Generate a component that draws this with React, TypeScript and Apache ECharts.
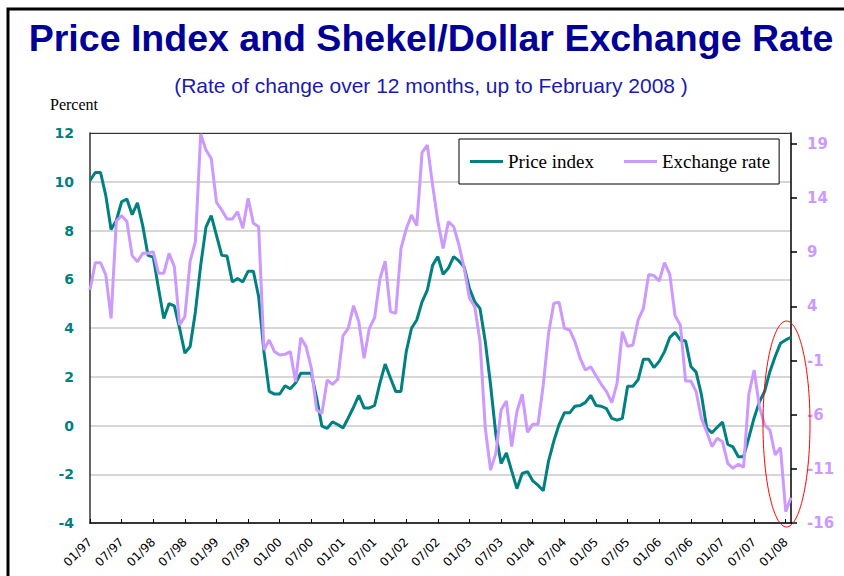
import React, { useEffect, useRef } from 'react';
import * as echarts from 'echarts';

// Monthly categories 01/97 .. 02/08
const months: string[] = [];
for (let y = 1997; y <= 2008; y++) {
  for (let m = 1; m <= 12; m++) {
    if (y === 2008 && m > 2) break;
    months.push(String(m).padStart(2, '0') + '/' + String(y % 100).padStart(2, '0'));
  }
}

const priceIndex: number[] = [
  10.05, 10.38, 10.38, 9.43, 8.04, 8.41, 9.18, 9.29, 8.65, 9.13, 8.2, 6.98,
  6.91, 5.62, 4.39, 5.0, 4.91, 3.99, 2.97, 3.24, 4.67, 6.57, 8.14, 8.61,
  7.8, 6.98, 6.95, 5.89, 6.03, 5.89, 6.33, 6.33, 5.28, 3.03, 1.4, 1.29,
  1.29, 1.63, 1.51, 1.74, 2.14, 2.14, 2.14, 1.13, -0.03, -0.12, 0.15, 0.04,
  -0.1, 0.31, 0.75, 1.24, 0.72, 0.72, 0.82, 1.74, 2.52, 1.95, 1.4, 1.4,
  3.03, 3.99, 4.33, 5.07, 5.55, 6.57, 6.93, 6.2, 6.46, 6.93, 6.75, 6.5,
  5.62, 5.07, 4.8, 3.44, 1.67, -0.37, -1.56, -1.12, -1.86, -2.59, -1.97, -1.89,
  -2.27, -2.45, -2.68, -1.46, -0.64, 0.04, 0.52, 0.52, 0.79, 0.82, 0.95, 1.24,
  0.82, 0.79, 0.69, 0.29, 0.22, 0.29, 1.61, 1.61, 1.88, 2.72, 2.72, 2.38,
  2.63, 3.03, 3.61, 3.82, 3.51, 3.47, 2.42, 2.19, 1.27, -0.1, -0.3, -0.07,
  0.14, -0.78, -0.88, -1.28, -1.28, -0.5, 0.31, 0.97, 1.4, 2.22, 2.83, 3.37,
  3.51, 3.62,
];

const exchangeRate: number[] = [
  5.51, 8.03, 8.03, 6.89, 2.89, 11.88, 12.37, 11.82, 8.68, 8.12, 8.89, 8.89,
  9.05, 7.05, 7.05, 8.89, 7.66, 2.28, 3.05, 8.18, 9.97, 19.9, 18.43, 17.66,
  13.6, 12.89, 12.06, 12.06, 12.74, 11.2, 13.97, 11.66, 11.35, -0.03, 0.89, -0.18,
  -0.49, -0.43, -0.18, -2.95, 1.11, 0.28, -1.72, -5.57, -5.88, -2.8, -3.2, -2.74,
  1.29, 1.97, 4.06, 2.58, -0.8, 1.97, 2.95, 6.52, 8.18, 3.51, 3.35, 9.35,
  11.14, 12.43, 11.45, 18.22, 18.89, 15.2, 11.82, 9.35, 11.82, 11.35, 9.66, 7.51,
  4.74, 3.97, 0.74, -7.26, -11.11, -9.57, -5.57, -4.74, -8.95, -5.72, -4.12, -7.63,
  -6.89, -6.89, -3.26, 1.51, 4.28, 4.37, 1.97, 1.82, 0.74, -0.8, -1.88, -1.57,
  -2.4, -3.2, -3.88, -4.89, -3.11, 1.66, 0.3, 0.43, 2.74, 3.82, 6.95, 6.83,
  6.34, 8.03, 6.95, 3.14, 2.28, -2.89, -2.89, -3.88, -6.34, -7.57, -8.95, -8.18,
  -8.49, -10.49, -10.95, -10.58, -10.86, -4.12, -1.88, -5.26, -6.95, -7.42, -9.72, -9.05,
  -14.95, -13.66,
];

const rightTicks: number[] = [-16, -11, -6, -1, 4, 9, 14, 19];

const TEAL = '#008080';
const LILAC = '#CC99FF';

export default function App() {
  const ref = useRef<HTMLDivElement>(null);

  useEffect(() => {
    if (!ref.current) return;
    const chart = echarts.init(ref.current, undefined, { renderer: 'svg' });
    const option: any = {
      animation: false,
      backgroundColor: '#ffffff',
      grid: { left: 90, right: 53, top: 133, bottom: 53, containLabel: false },
      legend: {
        left: 459,
        top: 139,
        orient: 'horizontal',
        padding: [13, 9, 13, 11],
        borderColor: '#000',
        borderWidth: 1,
        backgroundColor: '#fff',
        itemWidth: 33,
        itemHeight: 3,
        itemGap: 30,
        icon: 'rect',
        textStyle: { fontFamily: 'Liberation Serif', fontSize: 19, color: '#000' },
        data: ['Price index', 'Exchange rate'],
      },
      xAxis: [
        {
          type: 'category',
          data: months,
          boundaryGap: false,
          axisLine: { show: true, onZero: false, lineStyle: { color: '#000', width: 1.5 } },
          axisTick: { show: true, inside: true, length: 4, interval: 5, lineStyle: { color: '#000' } },
          axisLabel: {
            interval: 5,
            rotate: 45,
            fontFamily: 'DejaVu Sans',
            fontSize: 12,
            color: '#000',
            margin: 17,
          },
          splitLine: { show: false },
        },
        {
          type: 'category',
          data: months,
          boundaryGap: false,
          position: 'top',
          axisLine: { show: true, onZero: false, lineStyle: { color: '#333', width: 1.2 } },
          axisTick: { show: false },
          axisLabel: { show: false },
          splitLine: { show: false },
        },
      ],
      yAxis: [
        {
          type: 'value',
          min: -4,
          max: 12,
          interval: 2,
          position: 'left',
          axisLine: { show: true, onZero: false, lineStyle: { color: '#333', width: 1.5 } },
          axisTick: { show: false },
          axisLabel: {
            color: TEAL,
            fontWeight: 'bold',
            fontSize: 14,
            fontFamily: 'DejaVu Sans',
            margin: 16,
          },
          splitLine: { show: true, lineStyle: { color: '#c8c8c8', width: 1.5 } },
        },
        {
          type: 'value',
          min: -16,
          max: 20,
          position: 'right',
          axisLine: { show: true, onZero: false, lineStyle: { color: '#000', width: 1.5 } },
          axisTick: { show: true, length: 6, customValues: rightTicks, lineStyle: { color: '#000', width: 1.5 } },
          axisLabel: {
            customValues: rightTicks,
            color: LILAC,
            fontWeight: 'bold',
            fontSize: 15,
            fontFamily: 'DejaVu Sans',
            margin: 16,
          },
          splitLine: { show: false },
        },
      ],
      series: [
        {
          name: 'Price index',
          type: 'line',
          data: priceIndex,
          xAxisIndex: 0,
          yAxisIndex: 0,
          symbol: 'none',
          showSymbol: false,
          lineStyle: { color: TEAL, width: 3 },
          itemStyle: { color: TEAL },
          z: 3,
        },
        {
          name: 'Exchange rate',
          type: 'line',
          data: exchangeRate,
          xAxisIndex: 0,
          yAxisIndex: 1,
          symbol: 'none',
          showSymbol: false,
          lineStyle: { color: LILAC, width: 3 },
          itemStyle: { color: LILAC },
          z: 4,
        },
      ],
      graphic: [
        {
          type: 'rect',
          shape: { x: 8, y: 9, width: 900, height: 700 },
          style: { fill: 'none', stroke: '#000', lineWidth: 3 },
          z: 0,
          silent: true,
        },
        {
          type: 'text',
          x: 431,
          y: 38,
          style: {
            text: 'Price Index and Shekel/Dollar Exchange Rate',
            fill: '#000099',
            font: 'bold 37.5px "Liberation Sans", Arial, sans-serif',
            textAlign: 'center',
            textVerticalAlign: 'middle',
          },
        },
        {
          type: 'text',
          x: 431,
          y: 85,
          style: {
            text: '(Rate of change over 12 months, up to February 2008 )',
            fill: '#1a1ab0',
            font: '21px "Liberation Sans", Arial, sans-serif',
            textAlign: 'center',
            textVerticalAlign: 'middle',
          },
        },
        {
          type: 'text',
          x: 50,
          y: 104,
          style: {
            text: 'Percent',
            fill: '#000',
            font: '16px "Liberation Serif", "Times New Roman", serif',
            textAlign: 'left',
            textVerticalAlign: 'middle',
          },
        },
        {
          type: 'ellipse',
          shape: { cx: 786.5, cy: 424, rx: 23.5, ry: 103 },
          style: { fill: 'none', stroke: '#ff0000', lineWidth: 1 },
          z: 100,
          silent: true,
        },
      ],
    };
    chart.setOption(option);
    return () => {
      chart.dispose();
    };
  }, []);

  return (
    <div
      ref={ref}
      style={{ position: 'absolute', left: 0, top: 0, width: 844, height: 576 }}
    />
  );
}
